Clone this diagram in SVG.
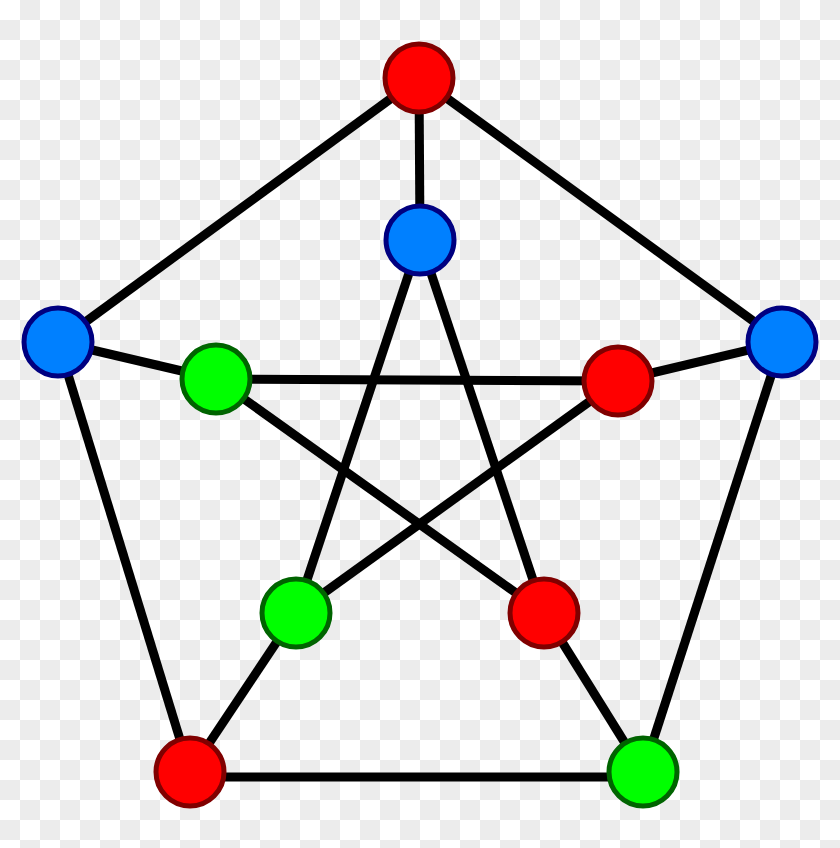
<svg xmlns="http://www.w3.org/2000/svg" width="840" height="848" viewBox="0 0 840 848">
<defs>
<pattern id="checker" x="0" y="0" width="40" height="40" patternUnits="userSpaceOnUse">
<rect width="40" height="40" fill="#ffffff"/>
<rect x="20" y="0" width="20" height="20" fill="#ececec"/>
<rect x="0" y="20" width="20" height="20" fill="#ececec"/>
</pattern>
</defs>
<style>
.edge{stroke:#000;stroke-width:9;fill:none}
.node{stroke-width:5}
.red{fill:#ff0000;stroke:#800000}
.blue{fill:#0080ff;stroke:#000080}
.green{fill:#00ff00;stroke:#006400}
</style>
<rect width="840" height="848" fill="url(#checker)"/>
<g id="connectors">
<line class="edge" x1="419" y1="78" x2="58" y2="342"/>
<line class="edge" x1="419" y1="78" x2="782" y2="342"/>
<line class="edge" x1="58" y1="342" x2="190" y2="772"/>
<line class="edge" x1="782" y1="342" x2="643" y2="772"/>
<line class="edge" x1="190" y1="777" x2="643" y2="777"/>
<line class="edge" x1="419" y1="78" x2="420" y2="240"/>
<line class="edge" x1="58" y1="342" x2="216" y2="379"/>
<line class="edge" x1="782" y1="342" x2="618" y2="381"/>
<line class="edge" x1="190" y1="772" x2="296" y2="613"/>
<line class="edge" x1="643" y1="772" x2="544" y2="613"/>
<line class="edge" x1="420" y1="240" x2="296" y2="613"/>
<line class="edge" x1="420" y1="240" x2="544" y2="613"/>
<line class="edge" x1="216" y1="379" x2="618" y2="381"/>
<line class="edge" x1="216" y1="379" x2="544" y2="613"/>
<line class="edge" x1="618" y1="381" x2="296" y2="613"/>
</g>
<g id="n-top"><circle class="node red" cx="419" cy="78" r="34"/></g>
<g id="n-left"><circle class="node blue" cx="58" cy="342" r="34"/></g>
<g id="n-right"><circle class="node blue" cx="782" cy="342" r="34"/></g>
<g id="n-bl"><circle class="node red" cx="190" cy="772" r="34"/></g>
<g id="n-br"><circle class="node green" cx="643" cy="772" r="34"/></g>
<g id="i-top"><circle class="node blue" cx="420" cy="240" r="34"/></g>
<g id="i-left"><circle class="node green" cx="216" cy="379" r="34"/></g>
<g id="i-right"><circle class="node red" cx="618" cy="381" r="34"/></g>
<g id="i-bl"><circle class="node green" cx="296" cy="613" r="34"/></g>
<g id="i-br"><circle class="node red" cx="544" cy="613" r="34"/></g>
</svg>
